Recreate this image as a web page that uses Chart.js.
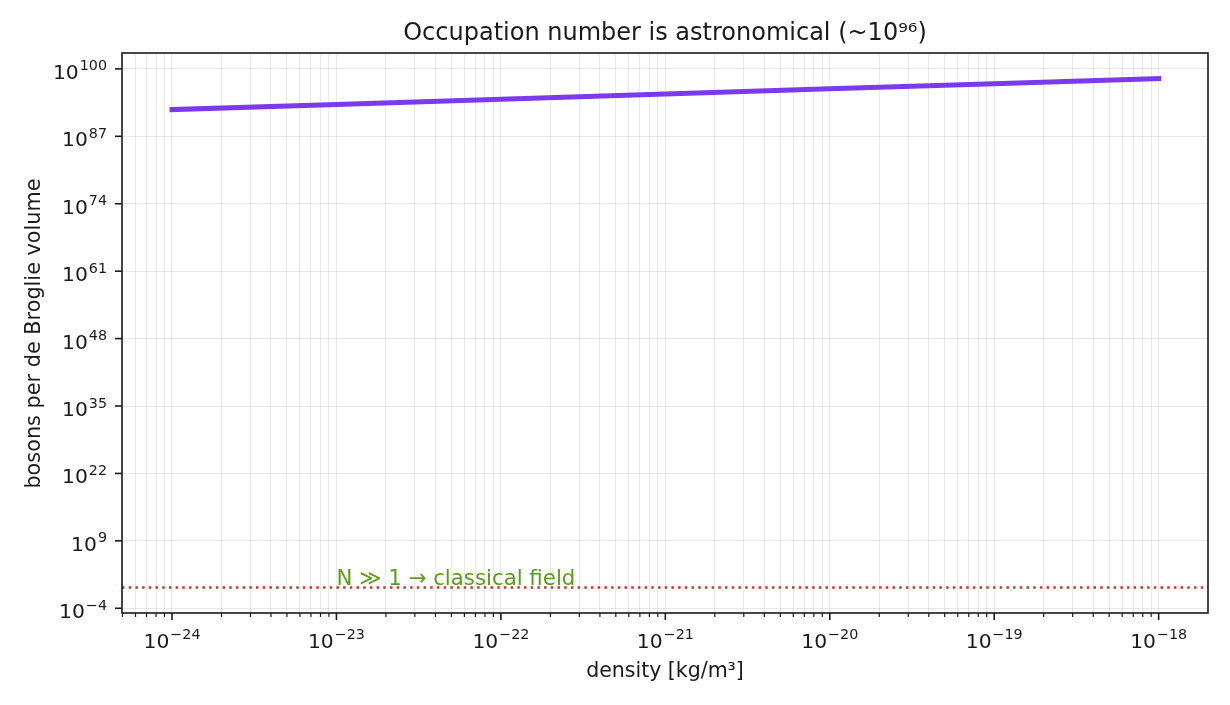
<!DOCTYPE html>
<html>
<head>
<meta charset="utf-8">
<script src="https://cdn.jsdelivr.net/npm/chart.js@4.4.1/dist/chart.umd.min.js"></script>
<style>
html,body{margin:0;padding:0;background:#fff;}
#wrap{width:1230px;height:705px;position:relative;}
canvas{display:block;}
</style>
</head>
<body>
<div id="wrap"><canvas id="c" width="1230" height="705" style="width:1230px;height:705px"></canvas></div>
<script>
// ---- data ----
const densities = [1e-24, 1e-23, 1e-22, 1e-21, 1e-20, 1e-19, 1e-18];           // kg/m^3
const occupation = [1.4e92, 1.4e93, 1.4e94, 1.4e95, 1.4e96, 1.4e97, 1.4e98];    // bosons per de Broglie volume
const threshold = 1;                                                           // N = 1 line
const xTickExps = [-24, -23, -22, -21, -20, -19, -18];
const yTickExps = [-4, 9, 22, 35, 48, 61, 74, 87, 100];
const titleText = "Occupation number is astronomical (~10\u2079\u2076)";
const xLabel = "density [kg/m\u00B3]";
const yLabel = "bosons per de Broglie volume";
const noteText = "N \u226B 1 \u2192 classical field";
const noteX = 1e-23;

// axis limits (log10)
const xLimExp = [-24.304, -17.70];
const yLimExp = [-4.91, 103.06];

const FONT = "'DejaVu Sans', sans-serif";
const purple = "#7c3aed", red = "#c0392b", green = "#5d9c1a", ink = "#1a1a1a";

function minorX() {
  const arr = [];
  for (let e = -25; e <= -18; e++) {
    for (let m = 1; m <= 9; m++) {
      const v = m * Math.pow(10, e);
      const le = Math.log10(v);
      if (le >= xLimExp[0] && le <= xLimExp[1]) arr.push(v);
    }
  }
  return arr;
}

function supText(ctx, exp, x, y, align) {
  const base = "10";
  const ex = (exp < 0 ? "\u2212" : "") + Math.abs(exp);
  ctx.font = "20.3px " + FONT;
  const wb = ctx.measureText(base).width;
  ctx.font = "14.3px " + FONT;
  const we = ctx.measureText(ex).width;
  const total = wb + we + 1;
  let sx = align === "center" ? x - total / 2 : x - total;
  ctx.textAlign = "left";
  ctx.textBaseline = "alphabetic";
  ctx.font = "20.3px " + FONT;
  ctx.fillText(base, sx, y);
  ctx.font = "14.3px " + FONT;
  ctx.fillText(ex, sx + wb + 1, y - 8.4);
}

const decor = {
  id: "decor",
  afterDatasetsDraw(chart) {
    const ctx = chart.ctx, a = chart.chartArea;
    const xs = chart.scales.x, ys = chart.scales.y;
    ctx.save();
    ctx.beginPath();
    ctx.rect(a.left, a.top, a.right - a.left, a.bottom - a.top);
    ctx.clip();
    // threshold line
    const yp = ys.getPixelForValue(threshold);
    ctx.strokeStyle = red;
    ctx.lineWidth = 2.5;
    ctx.setLineDash([2.5, 4.2]);
    ctx.beginPath();
    ctx.moveTo(a.left, yp);
    ctx.lineTo(a.right, yp);
    ctx.stroke();
    ctx.setLineDash([]);
    ctx.restore();
    // note
    ctx.save();
    ctx.fillStyle = green;
    ctx.font = "21.3px " + FONT;
    ctx.textAlign = "left";
    ctx.textBaseline = "alphabetic";
    ctx.fillText(noteText, xs.getPixelForValue(noteX), yp - 2.5);
    ctx.restore();
  },
  afterDraw(chart) {
    const ctx = chart.ctx, a = chart.chartArea;
    const xs = chart.scales.x, ys = chart.scales.y;
    ctx.save();
    // frame
    ctx.strokeStyle = ink;
    ctx.lineWidth = 1.6;
    ctx.strokeRect(a.left, a.top, a.right - a.left, a.bottom - a.top);
    // x ticks
    minorX().forEach(v => {
      const le = Math.round(Math.log10(v) * 1000) / 1000;
      const isMajor = Number.isInteger(le);
      const px = xs.getPixelForValue(v);
      ctx.lineWidth = isMajor ? 1.6 : 1.2;
      ctx.beginPath();
      ctx.moveTo(px, a.bottom);
      ctx.lineTo(px, a.bottom + (isMajor ? 7 : 4));
      ctx.stroke();
    });
    ctx.fillStyle = ink;
    xTickExps.forEach(e => {
      const px = xs.getPixelForValue(Math.pow(10, e));
      supText(ctx, e, px, a.bottom + 34.7, "center");
    });
    // y ticks
    yTickExps.forEach(e => {
      const py = ys.getPixelForValue(Math.pow(10, e));
      ctx.lineWidth = 1.6;
      ctx.beginPath();
      ctx.moveTo(a.left - 7, py);
      ctx.lineTo(a.left, py);
      ctx.stroke();
      supText(ctx, e, a.left - 15, py + 10, "right");
    });
    // title
    ctx.font = "24px " + FONT;
    ctx.textAlign = "center";
    ctx.textBaseline = "alphabetic";
    ctx.fillText(titleText, (a.left + a.right) / 2, 40);
    // x label
    ctx.font = "20.5px " + FONT;
    ctx.fillText(xLabel, (a.left + a.right) / 2, 677);
    // y label
    ctx.save();
    ctx.font = "20.8px " + FONT;
    ctx.translate(39.5, 333.5);
    ctx.rotate(-Math.PI / 2);
    ctx.fillText(yLabel, 0, 0);
    ctx.restore();
    ctx.restore();
  }
};

const points = densities.map((d, i) => ({ x: d, y: occupation[i] }));

new Chart(document.getElementById("c"), {
  type: "line",
  data: {
    datasets: [{
      data: points,
      borderColor: purple,
      borderWidth: 5,
      borderCapStyle: "square",
      pointRadius: 0,
      fill: false,
      tension: 0
    }]
  },
  options: {
    responsive: false,
    animation: false,
    devicePixelRatio: 1,
    layout: { padding: { left: 122, top: 53, right: 22, bottom: 92 } },
    plugins: { legend: { display: false }, title: { display: false }, tooltip: { enabled: false } },
    scales: {
      x: {
        type: "logarithmic",
        min: Math.pow(10, xLimExp[0]),
        max: Math.pow(10, xLimExp[1]),
        ticks: { display: false },
        border: { display: false },
        grid: { drawTicks: false, color: "rgba(0,0,0,0.085)", lineWidth: 1 },
        afterBuildTicks(s) { s.ticks = minorX().map(v => ({ value: v })); },
        afterFit(s) { s.height = 0; }
      },
      y: {
        type: "logarithmic",
        min: Math.pow(10, yLimExp[0]),
        max: Math.pow(10, yLimExp[1]),
        ticks: { display: false },
        border: { display: false },
        grid: { drawTicks: false, color: "rgba(0,0,0,0.085)", lineWidth: 1 },
        afterBuildTicks(s) { s.ticks = yTickExps.map(e => ({ value: Math.pow(10, e) })); },
        afterFit(s) { s.width = 0; }
      }
    }
  },
  plugins: [decor]
});
</script>
</body>
</html>
